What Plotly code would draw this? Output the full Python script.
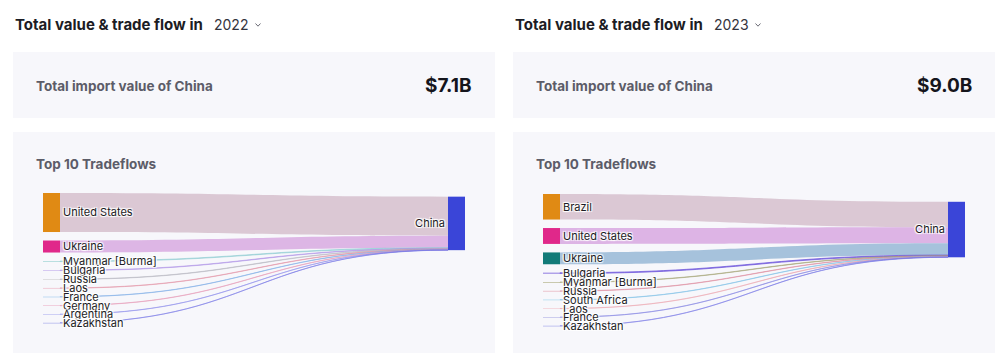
import plotly.graph_objects as go

# The page body has an 8px margin, so the figure starts at (8, 8) of the window.
OFF = 8
W, H = 992, 348

# ---------- data ----------
years = ["2022", "2023"]
totals = ["$7.1B", "$9.0B"]
target = "China"

sources_2022 = ["United States", "Ukraine", "Myanmar [Burma]", "Bulgaria", "Russia",
                "Laos", "France", "Germany", "Argentina", "Kazakhstan"]
values_2022 = [5.20, 1.60, 0.08, 0.06, 0.05, 0.04, 0.03, 0.03, 0.02, 0.02]
node_colors_2022 = ["#e08a14", "#e0288a", "#8fcfcf", "#b49be8", "#c4c4c4",
                    "#e8a0b4", "#8cc0ea", "#eaa6c0", "#a4a6ee", "#8c90e6"]
link_colors_2022 = ["rgba(214,192,204,0.85)", "rgba(216,170,224,0.85)",
                    "rgba(130,200,205,0.5)", "rgba(170,140,230,0.5)", "rgba(180,180,190,0.5)",
                    "rgba(225,140,160,0.5)", "rgba(120,170,230,0.5)", "rgba(230,150,180,0.5)",
                    "rgba(140,140,235,0.5)", "rgba(120,120,230,0.55)"]

sources_2023 = ["Brazil", "United States", "Ukraine", "Bulgaria", "Myanmar [Burma]",
                "Russia", "South Africa", "Laos", "France", "Kazakhstan"]
values_2023 = [4.10, 2.55, 1.90, 0.12, 0.06, 0.05, 0.04, 0.03, 0.03, 0.03]
node_colors_2023 = ["#e08a14", "#e0288a", "#127a78", "#6b4fd8", "#9a9a60",
                    "#e090a0", "#8ccfea", "#f0b8c0", "#a0a0e0", "#8c90e6"]
link_colors_2023 = ["rgba(214,192,204,0.85)", "rgba(216,168,224,0.85)", "rgba(152,184,214,0.85)",
                    "rgba(110,85,220,0.7)", "rgba(160,160,110,0.5)", "rgba(220,130,150,0.5)",
                    "rgba(120,190,230,0.5)", "rgba(235,160,170,0.5)", "rgba(130,130,225,0.55)",
                    "rgba(120,120,230,0.55)"]
target_color = "#3a45d8"

FONT = "Inter, Noto Sans, sans-serif"

def px_x(x):
    return (x - OFF) / W

def px_y(y):
    return 1 - (y - OFF) / H

fig = go.Figure()

panels = [
    dict(x0=13, year=years[0], total=totals[0], src=sources_2022, val=values_2022,
         nc=node_colors_2022, lc=link_colors_2022, sk_y=(193, 323)),
    dict(x0=513, year=years[1], total=totals[1], src=sources_2023, val=values_2023,
         nc=node_colors_2023, lc=link_colors_2023, sk_y=(194, 326)),
]

shapes = []
annotations = []
for p in panels:
    x0 = p["x0"]
    # boxes
    shapes.append(dict(type="rect", xref="paper", yref="paper",
                       x0=px_x(x0), x1=px_x(x0 + 482), y0=px_y(118), y1=px_y(52),
                       fillcolor="#f7f7fb", line=dict(width=0), layer="below"))
    shapes.append(dict(type="rect", xref="paper", yref="paper",
                       x0=px_x(x0), x1=px_x(x0 + 482), y0=px_y(353), y1=px_y(132),
                       fillcolor="#f7f7fb", line=dict(width=0), layer="below"))
    # dropdown chevron
    cx, cy = x0 + 245, 25
    path = "M {} {} L {} {} L {} {}".format(px_x(cx - 2.5), px_y(cy - 1.5), px_x(cx), px_y(cy + 1.2),
                                            px_x(cx + 2.5), px_y(cy - 1.5))
    shapes.append(dict(type="path", xref="paper", yref="paper", path=path,
                       line=dict(color="#6a6a74", width=1)))
    # header
    annotations.append(dict(x=px_x(x0), y=px_y(25), xref="paper", yref="paper",
                            xanchor="left", yanchor="middle", showarrow=False,
                            text="<b>Total value &amp; trade flow in</b>",
                            font=dict(family=FONT, size=15, color="#1c1c24")))
    annotations.append(dict(x=px_x(x0 + 199), y=px_y(25), xref="paper", yref="paper",
                            xanchor="left", yanchor="middle", showarrow=False,
                            text=p["year"], font=dict(family=FONT, size=14, color="#33333d")))
    # total box text
    annotations.append(dict(x=px_x(x0 + 21), y=px_y(86), xref="paper", yref="paper",
                            xanchor="left", yanchor="middle", showarrow=False,
                            text="<b>Total import value of China</b>",
                            font=dict(family=FONT, size=13.5, color="#5c5c68")))
    annotations.append(dict(x=px_x(x0 + 461), y=px_y(85), xref="paper", yref="paper",
                            xanchor="right", yanchor="middle", showarrow=False,
                            text="<b>" + p["total"] + "</b>",
                            font=dict(family=FONT, size=19, color="#15151c")))
    annotations.append(dict(x=px_x(x0 + 21), y=px_y(164), xref="paper", yref="paper",
                            xanchor="left", yanchor="middle", showarrow=False,
                            text="<b>Top 10 Tradeflows</b>",
                            font=dict(family=FONT, size=13.5, color="#5c5c68")))

    n = len(p["src"])
    labels = p["src"] + [target]
    colors = p["nc"] + [target_color]
    fig.add_trace(go.Sankey(
        domain=dict(x=[px_x(x0 + 30), px_x(x0 + 452)],
                    y=[px_y(p["sk_y"][1]), px_y(p["sk_y"][0])]),
        arrangement="fixed",
        node=dict(label=labels, color=colors, pad=8.5, thickness=17,
                  line=dict(width=0)),
        link=dict(source=list(range(n)), target=[n] * n, value=p["val"],
                  color=p["lc"], line=dict(width=0)),
        textfont=dict(family=FONT, size=11, color="#1c1c24"),
        hoverinfo="none",
    ))

fig.update_layout(width=W, height=H, margin=dict(l=0, r=0, t=0, b=0),
                  paper_bgcolor="white", plot_bgcolor="white",
                  shapes=shapes, annotations=annotations, showlegend=False)

fig.write_html("out.html")
